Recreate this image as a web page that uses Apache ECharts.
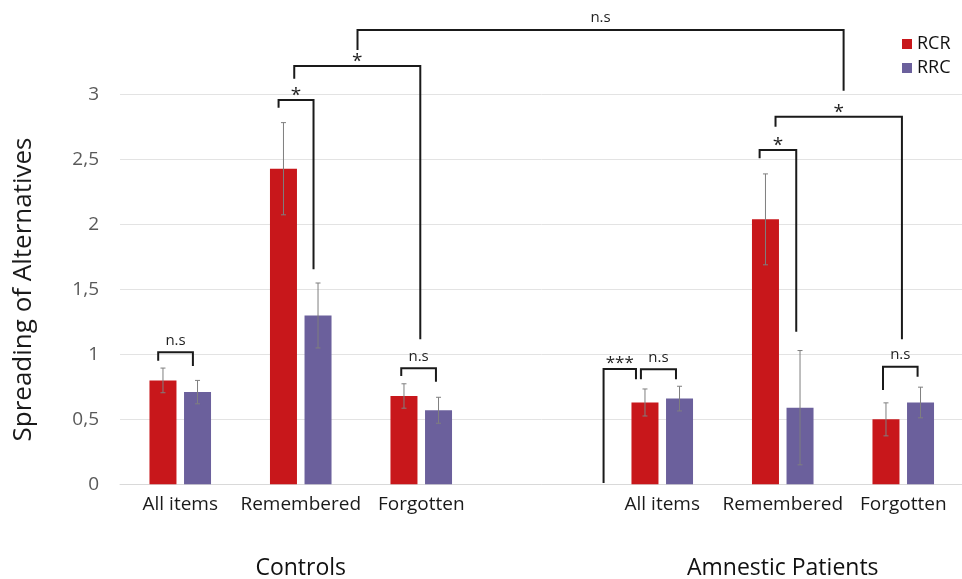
<!DOCTYPE html>
<html>
<head>
<meta charset="utf-8">
<script src="https://cdn.jsdelivr.net/npm/echarts@6/dist/echarts.min.js"></script>
<style>
  html, body { margin: 0; padding: 0; background: #fff; }
  #chart { width: 962px; height: 579px; }
</style>
</head>
<body>
<div id="chart"></div>
<script>
// data
var categories = ['All items', 'Remembered', 'Forgotten', '', 'All items', 'Remembered', 'Forgotten'];
var rcrValues = [0.80, 2.43, 0.68, null, 0.63, 2.04, 0.50];
var rrcValues = [0.71, 1.30, 0.57, null, 0.66, 0.59, 0.63];
var rcrErrors = [0.095, 0.355, 0.094, null, 0.104, 0.35, 0.127];
var rrcErrors = [0.09, 0.25, 0.10, null, 0.095, 0.44, 0.118];
var yTicks = [0, 0.5, 1, 1.5, 2, 2.5, 3];

var groupNames = ['Controls', 'Amnestic Patients'];
var groupCenters = [1, 5];

// significance brackets (x in category units, y in data units)
var bracketX1 = [-0.183, 0.816, 0.946, 1.471, 4.808, 4.94, 3.513, 3.823, 5.832, 1.834];
var bracketX2 = [0.105, 1.106, 1.992, 5.505, 5.112, 5.989, 3.782, 4.114, 6.119, 2.122];
var bracketLeftY = [0.952, 2.90, 3.123, 3.344, 2.510, 2.754, 0.01, 0.809, 0.726, 0.834];
var bracketTopY = [1.016, 2.96, 3.221, 3.498, 2.574, 2.831, 0.888, 0.886, 0.906, 0.893];
var bracketRightY = [0.911, 1.655, 1.117, 3.031, 1.175, 1.117, 0.809, 0.809, 0.829, 0.79];
var bracketLabels = ['n.s', '*', '*', 'n.s', '*', '*', '***', 'n.s', 'n.s', 'n.s'];

var FONT = 'Open Sans';
var BAR_W = 27;
var BAR_GAP = 0.28;
var barShift = (BAR_W + BAR_W * BAR_GAP) / 2;

var chart = echarts.init(document.getElementById('chart'));

function errorData(values, errors) {
    var out = [];
    for (var i = 0; i < values.length; i++) {
        if (values[i] != null) out.push([i, values[i], errors[i]]);
    }
    return out;
}

function errorRenderer(shift) {
    return function (params, api) {
        var c = api.coord([api.value(0), api.value(1)]);
        var h = api.size([0, api.value(2)])[1];
        var x = c[0] + shift;
        var style = { stroke: '#7f7f7f', lineWidth: 1 };
        return {
            type: 'group',
            children: [
                { type: 'line', shape: { x1: x, y1: c[1] - h, x2: x, y2: c[1] + h }, style: style },
                { type: 'line', shape: { x1: x - 2.5, y1: c[1] - h, x2: x + 2.5, y2: c[1] - h }, style: style },
                { type: 'line', shape: { x1: x - 2.5, y1: c[1] + h, x2: x + 2.5, y2: c[1] + h }, style: style }
            ]
        };
    };
}

var bracketIdx = bracketLabels.map(function (l, i) { return [i]; });

function renderBracket(params, api) {
    var i = params.dataIndex;
    var pL = api.coord([bracketX1[i], bracketLeftY[i]]);
    var pT1 = api.coord([bracketX1[i], bracketTopY[i]]);
    var pT2 = api.coord([bracketX2[i], bracketTopY[i]]);
    var pR = api.coord([bracketX2[i], bracketRightY[i]]);
    var lab = bracketLabels[i];
    var isStar = lab.indexOf('*') === 0;
    var ty = isStar ? pT1[1] - (lab.length > 1 ? 6 : 4) : pT1[1] - 12;
    return {
        type: 'group',
        children: [
            {
                type: 'polyline',
                shape: { points: [pL, pT1, pT2, pR] },
                style: { stroke: '#1a1a1a', lineWidth: 2, fill: null }
            },
            {
                type: 'text',
                style: {
                    text: lab,
                    x: (pT1[0] + pT2[0]) / 2,
                    y: ty,
                    align: 'center',
                    verticalAlign: 'middle',
                    fontFamily: FONT,
                    fontSize: isStar ? (lab.length > 1 ? 17 : 19) : 15,
                    fill: '#1f1f1f'
                }
            }
        ]
    };
}

function renderGroup(params, api) {
    var c = api.coord([api.value(0), 0]);
    return {
        type: 'text',
        style: {
            text: groupNames[params.dataIndex],
            x: c[0],
            y: c[1] + 84,
            align: 'center',
            verticalAlign: 'middle',
            fontFamily: FONT,
            fontSize: 23,
            fill: '#111'
        }
    };
}

var option = {
    animation: false,
    textStyle: { fontFamily: FONT },
    legend: {
        data: ['RCR', 'RRC'],
        orient: 'vertical',
        left: 897,
        top: 30,
        icon: 'rect',
        itemWidth: 10,
        itemHeight: 10,
        itemGap: 6,
        textStyle: { fontFamily: FONT, fontSize: 18, color: '#111' }
    },
    grid: { left: 120, top: 94.7, width: 843.5, bottom: 94.7, outerBoundsMode: 'none' },
    xAxis: [{
        type: 'category',
        data: categories,
        axisLine: { lineStyle: { color: '#d9d9d9' } },
        axisTick: { show: false },
        axisLabel: { fontFamily: FONT, fontSize: 19, color: '#1a1a1a', margin: 11, interval: 0 }
    }, {
        type: 'value',
        min: -0.5,
        max: 6.5,
        show: false
    }],
    yAxis: {
        type: 'value',
        min: 0,
        max: 3,
        interval: 0.5,
        name: 'Spreading of Alternatives',
        nameLocation: 'middle',
        nameRotate: 90,
        nameGap: 83,
        nameTextStyle: { fontFamily: FONT, fontSize: 26, color: '#1a1a1a' },
        axisLine: { show: false },
        axisTick: { show: false },
        splitLine: { lineStyle: { color: '#e3e3e3' } },
        axisLabel: {
            fontFamily: FONT, fontSize: 19, color: '#595959', margin: 21,
            formatter: function (v) { return yTicks.indexOf(v) >= 0 ? String(v).replace('.', ',') : ''; }
        }
    },
    series: [{
        name: 'RCR',
        type: 'bar',
        data: rcrValues,
        barWidth: BAR_W,
        barGap: (BAR_GAP * 100) + '%',
        itemStyle: { color: '#c8171b' }
    }, {
        name: 'RRC',
        type: 'bar',
        data: rrcValues,
        barWidth: BAR_W,
        itemStyle: { color: '#6b609c' }
    }, {
        type: 'custom',
        renderItem: errorRenderer(-barShift),
        data: errorData(rcrValues, rcrErrors),
        z: 10
    }, {
        type: 'custom',
        renderItem: errorRenderer(barShift),
        data: errorData(rrcValues, rrcErrors),
        z: 10
    }, {
        type: 'custom',
        xAxisIndex: 1,
        renderItem: renderBracket,
        data: bracketIdx,
        clip: false,
        z: 11
    }, {
        type: 'custom',
        renderItem: renderGroup,
        data: groupCenters.map(function (g) { return [g]; }),
        clip: false
    }]
};

chart.setOption(option);
</script>
</body>
</html>
